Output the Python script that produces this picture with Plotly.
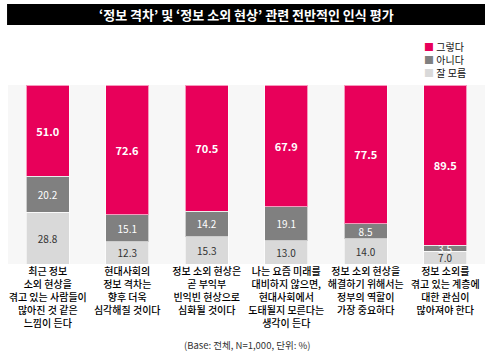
import plotly.graph_objects as go

categories = [
    "최근 정보<br>소외 현상을<br>겪고 있는 사람들이<br>많아진 것 같은<br>느낌이 든다",
    "현대사회의<br>정보 격차는<br>향후 더욱<br>심각해질 것이다",
    "정보 소외 현상은<br>곧 부익부<br>빈익빈 현상으로<br>심화될 것이다",
    "나는 요즘 미래를<br>대비하지 않으면,<br>현대사회에서<br>도태될지 모른다는<br>생각이 든다",
    "정보 소외 현상을<br>해결하기 위해서는<br>정부의 역할이<br>가장 중요하다",
    "정보 소외를<br>겪고 있는 계층에<br>대한 관심이<br>많아져야 한다",
]
yes_vals = [51.0, 72.6, 70.5, 67.9, 77.5, 89.5]
no_vals = [20.2, 15.1, 14.2, 19.1, 8.5, 3.5]
dk_vals = [28.8, 12.3, 15.3, 13.0, 14.0, 7.0]
series_names = ["그렇다", "아니다", "잘 모름"]

FONT = "Noto Sans CJK KR"
PINK = "#e8005a"
DARK = "#808080"
LIGHT = "#d9d9d9"
x_idx = list(range(len(categories)))

fig = go.Figure()
common = dict(textposition="inside", insidetextanchor="middle", constraintext="none", textangle=0,
              hoverinfo="skip")
fig.add_trace(go.Bar(
    x=x_idx, y=dk_vals, name=series_names[2], marker=dict(color=LIGHT, line=dict(color="rgba(255,255,255,0.6)", width=1)),
    text=[f"{v:.1f}" for v in dk_vals], textfont=dict(family=FONT, size=10, color="#333333"), **common,
))
fig.add_trace(go.Bar(
    x=x_idx, y=no_vals, name=series_names[1], marker=dict(color=DARK, line=dict(color="rgba(255,255,255,0.6)", width=1)),
    text=[f"{v:.1f}" for v in no_vals], textfont=dict(family=FONT, size=10, color="#ffffff"), **common,
))
fig.add_trace(go.Bar(
    x=x_idx, y=yes_vals, name=series_names[0], marker=dict(color=PINK, line=dict(color="rgba(255,255,255,0.6)", width=1)),
    text=[f"{v:.1f}" for v in yes_vals], textfont=dict(family=FONT, size=11, color="#ffffff", weight="bold"), **common,
))

legend_colors = [PINK, DARK, LIGHT]
legend_text = "<br>".join(
    f"<span style='color:{c}'>■</span> {n}" for c, n in zip(legend_colors, series_names)
)

fig.update_layout(
    width=494, height=356,
    margin=dict(l=8, r=9, t=85, b=92),
    barmode="stack", bargap=0.46,
    showlegend=False,
    paper_bgcolor="white", plot_bgcolor="#f7f7f7",
    font=dict(family=FONT, size=10, color="#111111"),
    xaxis=dict(tickmode="array", tickvals=x_idx, ticktext=categories, showgrid=False,
               zeroline=False, showline=False, ticks="", range=[-0.5, 5.5], automargin=False,
               tickfont=dict(family=FONT, size=10, color="#000000", weight=500)),
    yaxis=dict(range=[0, 100], visible=False, showgrid=False, automargin=False),
    shapes=[dict(type="rect", xref="paper", yref="paper", x0=-0.002, x1=1.0,
                 y0=1.335, y1=1.4525, fillcolor="black", line=dict(width=0), layer="above")],
    annotations=[
        dict(text="‘정보 격차’ 및 ‘정보 소외 현상’ 관련 전반적인 인식 평가", xref="paper", yref="paper",
             x=0.5, y=1.394, xanchor="center", yanchor="middle", showarrow=False,
             font=dict(family=FONT, size=13, color="white", weight="bold")),
        dict(text=legend_text, xref="paper", yref="paper", x=0.868, y=1.27,
             xanchor="left", yanchor="top", align="left", showarrow=False,
             font=dict(family=FONT, size=10, color="#111111")),
        dict(text="(Base: 전체, N=1,000, 단위: %)", xref="paper", yref="paper",
             x=0.5, y=-0.4525, xanchor="center", yanchor="middle", showarrow=False,
             font=dict(family=FONT, size=9.5, color="#333333")),
    ],
)

fig.write_html("out.html", config={"displayModeBar": False},
               post_script="document.body.style.margin='0';document.body.style.padding='0';")
